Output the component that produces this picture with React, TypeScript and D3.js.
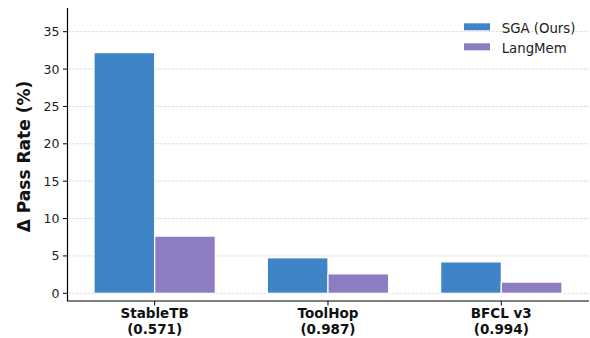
import React from "react";
import * as d3 from "d3";

const categories = ["StableTB", "ToolHop", "BFCL v3"];
const subLabels = ["(0.571)", "(0.987)", "(0.994)"];
const sgaValues = [32.2, 4.75, 4.2];
const langMemValues = [7.65, 2.6, 1.5];
const yTicks = [0, 5, 10, 15, 20, 25, 30, 35];
const seriesNames = ["SGA (Ours)", "LangMem"];
const seriesColors = ["#3f84c6", "#8e7cc3"];

const W = 590;
const H = 338;
const FONT = "DejaVu Sans, sans-serif";

export default function App() {
  const x = d3.scaleLinear().domain([-0.503, 2.506]).range([67.5, 589]);
  const y = d3.scaleLinear().domain([-1.03, 38.17]).range([301, 8]);
  const barW = 0.35;
  const series = [sgaValues, langMemValues];

  return (
    <div style={{ position: "fixed", left: 0, top: 0 }}>
      <svg width={W} height={H} style={{ display: "block", background: "#fff" }}>
        {/* horizontal grid */}
        {yTicks.map((t) => (
          <line
            key={"g" + t}
            x1={x(-0.503)}
            x2={x(2.506)}
            y1={y(t)}
            y2={y(t)}
            stroke="#cfcfcf"
            strokeWidth={0.8}
            strokeDasharray="2.5,1.5"
          />
        ))}
        {/* bars */}
        {series.map((vals, si) =>
          vals.map((v, ci) => {
            const x0 = si === 0 ? ci - barW : ci;
            const x1 = si === 0 ? ci : ci + barW;
            return (
              <rect
                key={`b${si}-${ci}`}
                x={x(x0)}
                y={y(v)}
                width={x(x1) - x(x0)}
                height={y(0) - y(v)}
                fill={seriesColors[si]}
                stroke="#ffffff"
                strokeWidth={1.2}
              />
            );
          })
        )}
        {/* y axis */}
        <line x1={67.5} x2={67.5} y1={8} y2={301} stroke="#000" strokeWidth={1.2} />
        {yTicks.map((t) => (
          <g key={"yt" + t}>
            <line x1={63} x2={67.5} y1={y(t)} y2={y(t)} stroke="#000" strokeWidth={1} />
            <text
              x={59.5}
              y={y(t)}
              dy="0.36em"
              textAnchor="end"
              fontFamily={FONT}
              fontSize={12.5}
              fill="#222"
            >
              {t}
            </text>
          </g>
        ))}
        {/* x axis */}
        <line x1={67} x2={589} y1={301} y2={301} stroke="#000" strokeWidth={1.2} />
        {categories.map((c, i) => (
          <g key={"xt" + c}>
            <line x1={x(i)} x2={x(i)} y1={301} y2={305.5} stroke="#000" strokeWidth={1} />
            <text
              x={x(i)}
              y={318.3}
              textAnchor="middle"
              fontFamily={FONT}
              fontSize={13.5}
              fontWeight="bold"
              fill="#111"
            >
              {c}
            </text>
            <text
              x={x(i)}
              y={333.5}
              textAnchor="middle"
              fontFamily={FONT}
              fontSize={13.5}
              fontWeight="bold"
              fill="#111"
            >
              {subLabels[i]}
            </text>
          </g>
        ))}
        {/* y label */}
        <text
          transform="translate(30,156.5) rotate(-90)"
          textAnchor="middle"
          fontFamily={FONT}
          fontSize={17}
          fontWeight="bold"
          fill="#111"
        >
          Δ Pass Rate (%)
        </text>
        {/* legend */}
        {seriesNames.map((n, i) => (
          <g key={"lg" + n}>
            <rect x={464} y={23.3 + i * 20} width={26} height={7} fill={seriesColors[i]} />
            <text
              x={501.7}
              y={32.7 + i * 20}
              fontFamily={FONT}
              fontSize={13.3}
              fill="#222"
            >
              {n}
            </text>
          </g>
        ))}
      </svg>
    </div>
  );
}
